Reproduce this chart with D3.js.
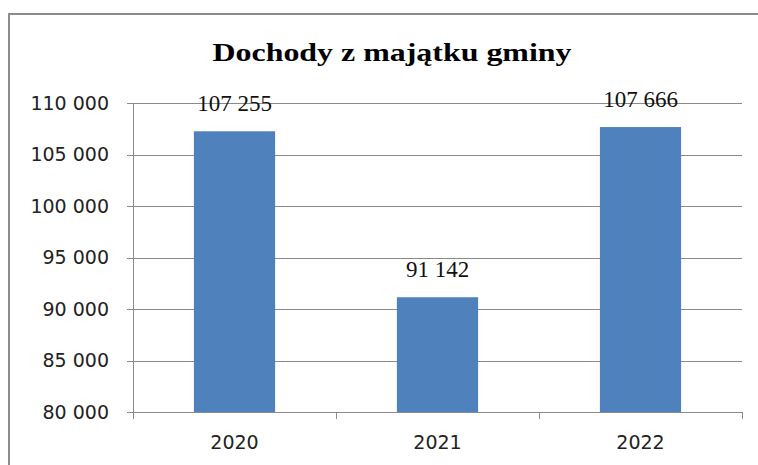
<!DOCTYPE html>
<html>
<head>
<meta charset="utf-8">
<script src="https://cdn.jsdelivr.net/npm/d3@7"></script>
<style>
  body { margin: 0; background: #fff; }
</style>
</head>
<body>
<div class="container"></div>
<script>
const years = ['2020', '2021', '2022']
const values = [107255, 91142, 107666]
const yTicks = [80000, 85000, 90000, 95000, 100000, 105000, 110000]
const title = 'Dochody z majątku gminy'

const W = 758, H = 465
const svg = d3.select('.container').append('svg')
  .attr('width', W)
  .attr('height', H)

// frame (right and bottom edges lie outside the picture)
svg.append('path')
  .attr('d', 'M9,' + H + 'V14H' + W)
  .attr('fill', 'none')
  .attr('stroke', '#8c8c8c')
  .attr('stroke-width', 2)

const x = d3.scaleBand()
  .domain(years)
  .range([133, 742])
  .paddingInner(0.6)
  .paddingOuter(0.3)

const y = d3.scaleLinear()
  .domain([80000, 110000])
  .range([412, 103])

const fmt = d3.formatLocale({ thousands: ' ', grouping: [3], decimal: ',', currency: ['', ''] }).format(',')

// gridlines
svg.selectAll('line.grid')
  .data(yTicks)
  .enter()
  .append('line')
  .attr('class', 'grid')
  .attr('x1', 127)
  .attr('x2', 742)
  .attr('y1', d => Math.round(y(d)) + 0.5)
  .attr('y2', d => Math.round(y(d)) + 0.5)
  .attr('stroke', '#8a8a8a')
  .attr('stroke-width', 1)

// y axis line
svg.append('line')
  .attr('x1', 133.5).attr('x2', 133.5)
  .attr('y1', y(110000)).attr('y2', y(80000))
  .attr('stroke', '#8a8a8a')

// y labels
svg.selectAll('text.ylab')
  .data(yTicks)
  .enter()
  .append('text')
  .attr('class', 'ylab')
  .attr('x', 109)
  .attr('y', d => y(d))
  .attr('dy', '0.36em')
  .attr('text-anchor', 'end')
  .attr('font-family', 'DejaVu Sans')
  .attr('font-size', 19)
  .attr('fill', '#222')
  .text(d => fmt(d))

// category tick marks
const bounds = d3.range(years.length + 1).map(i => x.range()[0] + i * x.step())
svg.selectAll('line.xtick')
  .data(bounds)
  .enter()
  .append('line')
  .attr('class', 'xtick')
  .attr('x1', d => Math.round(d) + 0.5)
  .attr('x2', d => Math.round(d) + 0.5)
  .attr('y1', y(80000))
  .attr('y2', y(80000) + 7)
  .attr('stroke', '#8a8a8a')

// bars
svg.selectAll('rect.bar')
  .data(values)
  .enter()
  .append('rect')
  .attr('class', 'bar')
  .attr('x', (d, i) => x(years[i]))
  .attr('y', d => y(d))
  .attr('width', x.bandwidth())
  .attr('height', d => y(80000) - y(d))
  .attr('fill', '#4f81bd')

// value labels
svg.selectAll('text.val')
  .data(values)
  .enter()
  .append('text')
  .attr('class', 'val')
  .attr('x', (d, i) => x(years[i]) + x.bandwidth() / 2)
  .attr('y', d => y(d) - 20)
  .attr('text-anchor', 'middle')
  .attr('font-family', 'Liberation Serif')
  .attr('font-size', 23)
  .attr('fill', '#111')
  .text(d => fmt(d))

// x labels
svg.selectAll('text.xlab')
  .data(years)
  .enter()
  .append('text')
  .attr('class', 'xlab')
  .attr('x', d => x(d) + x.bandwidth() / 2)
  .attr('y', 449)
  .attr('text-anchor', 'middle')
  .attr('font-family', 'DejaVu Sans')
  .attr('font-size', 19)
  .attr('fill', '#222')
  .text(d => d)

// title
svg.append('text')
  .attr('x', 392)
  .attr('y', 61)
  .attr('text-anchor', 'middle')
  .attr('font-family', 'Liberation Serif')
  .attr('font-weight', 'bold')
  .attr('font-size', 26)
  .attr('textLength', 359)
  .attr('lengthAdjust', 'spacingAndGlyphs')
  .attr('fill', '#000')
  .text(title)
</script>
</body>
</html>
